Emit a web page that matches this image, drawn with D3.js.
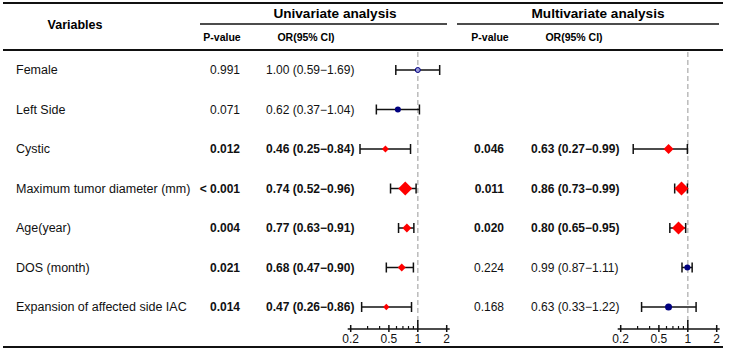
<!DOCTYPE html>
<html>
<head>
<meta charset="utf-8">
<script src="https://cdn.jsdelivr.net/npm/d3@7"></script>
<style>
  body { margin: 0; background: #fff; }
  svg { font-family: "Liberation Sans", Arial, sans-serif; }
</style>
</head>
<body>
<div id="container"></div>
<script>
/* DATA */
const variables = ["Female", "Left Side", "Cystic", "Maximum tumor diameter (mm)",
  "Age(year)", "DOS (month)", "Expansion of affected side IAC"];

// univariate analysis
const uniP = ["0.991", "0.071", "0.012", "< 0.001", "0.004", "0.021", "0.014"];
const uniOR = [1.00, 0.62, 0.46, 0.74, 0.77, 0.68, 0.47];
const uniLo = [0.59, 0.37, 0.25, 0.52, 0.63, 0.47, 0.26];
const uniHi = [1.69, 1.04, 0.84, 0.96, 0.91, 0.90, 0.86];

// multivariate analysis (Female / Left Side not entered)
const multiP = [null, null, "0.046", "0.011", "0.020", "0.224", "0.168"];
const multiOR = [null, null, 0.63, 0.86, 0.80, 0.99, 0.63];
const multiLo = [null, null, 0.27, 0.73, 0.65, 0.87, 0.33];
const multiHi = [null, null, 0.99, 0.99, 0.95, 1.11, 1.22];

const majorTicks = [0.2, 0.5, 1, 2];
const minorTicks = [0.3, 0.4, 0.6, 0.7, 0.8, 0.9];

/* CONSTANTS */
const width = 731, height = 351;
const rowTop = 70, rowStep = 39.5, axisY = 329;
// marker sizes (style only)
const uniSize = [2.5, 3, 3.5, 7, 4.5, 4, 3.2];
const multiSize = [0, 0, 5, 7, 6.5, 3, 3.5];

const fmt = d3.format(".2f");
const isSig = p => p != null && (p.startsWith("<") || +p < 0.05);

const svg = d3.select("#container")
  .append("svg")
  .attr("width", width)
  .attr("height", height);

const yRow = i => rowTop + i * rowStep;

/* HEADER */
const hline = (x1, x2, y, w) => svg.append("line")
  .attr("x1", x1).attr("x2", x2).attr("y1", y).attr("y2", y)
  .attr("stroke", "#111").attr("stroke-width", w);

hline(3, 723, 3, 2);
hline(3, 723, 50, 2.2);
hline(3, 723, 347, 2.2);
hline(200, 447, 24, 1.5);
hline(457, 719, 24, 1.5);

svg.append("text").attr("x", 75).attr("y", 25).attr("dy", "0.35em")
  .attr("text-anchor", "middle").attr("font-weight", "bold").attr("font-size", 12.5)
  .text("Variables");

const panels = [
  { title: "Univariate analysis", titleX: 335, pX: 240, orX: 266, pHead: 222, orHead: 306,
    x0: 350.7, p: uniP, or: uniOR, lo: uniLo, hi: uniHi, size: uniSize },
  { title: "Multivariate analysis", titleX: 598, pX: 504, orX: 531, pHead: 490, orHead: 574,
    x0: 620.7, p: multiP, or: multiOR, lo: multiLo, hi: multiHi, size: multiSize }
];

svg.selectAll("text.title")
  .data(panels)
  .join("text")
  .attr("class", "title")
  .attr("x", d => d.titleX).attr("y", 13).attr("dy", "0.35em")
  .attr("text-anchor", "middle").attr("font-weight", "bold").attr("font-size", 13.6)
  .text(d => d.title);

panels.forEach(pn => {
  svg.append("text").attr("x", pn.pHead).attr("y", 37).attr("dy", "0.35em")
    .attr("text-anchor", "middle").attr("font-weight", "bold").attr("font-size", 10.5)
    .text("P-value");
  svg.append("text").attr("x", pn.orHead).attr("y", 37).attr("dy", "0.35em")
    .attr("text-anchor", "middle").attr("font-weight", "bold").attr("font-size", 10.5)
    .text("OR(95% CI)");
});

/* ROW LABELS */
svg.selectAll("text.var")
  .data(variables)
  .join("text")
  .attr("class", "var")
  .attr("x", 16).attr("y", (d, i) => yRow(i)).attr("dy", "0.35em")
  .attr("font-size", 12.5).attr("fill", "#111")
  .text(d => d);

/* PANELS */
panels.forEach(pn => {
  const x = d3.scaleLog().domain([0.2, 2]).range([pn.x0, pn.x0 + 96]);
  const rows = variables.map((v, i) => ({
    i, p: pn.p[i], or: pn.or[i], lo: pn.lo[i], hi: pn.hi[i], size: pn.size[i]
  })).filter(d => d.p != null);

  const g = svg.append("g");

  // p-values
  g.selectAll("text.p")
    .data(rows)
    .join("text")
    .attr("x", pn.pX).attr("y", d => yRow(d.i)).attr("dy", "0.35em")
    .attr("text-anchor", "end").attr("font-size", 12).attr("fill", "#111")
    .attr("font-weight", d => isSig(d.p) ? "bold" : "normal")
    .text(d => d.p);

  // OR (95% CI)
  g.selectAll("text.or")
    .data(rows)
    .join("text")
    .attr("x", pn.orX).attr("y", d => yRow(d.i)).attr("dy", "0.35em")
    .attr("font-size", 12).attr("fill", "#111")
    .attr("font-weight", d => isSig(d.p) ? "bold" : "normal")
    .text(d => `${fmt(d.or)} (${fmt(d.lo)}\u2212${fmt(d.hi)})`);

  // reference line at OR = 1
  g.append("line")
    .attr("x1", x(1)).attr("x2", x(1)).attr("y1", 52).attr("y2", axisY)
    .attr("stroke", "#bbb").attr("stroke-width", 1.5).attr("stroke-dasharray", "5,3");

  // CI bars
  g.selectAll("line.ci")
    .data(rows)
    .join("line")
    .attr("x1", d => x(d.lo)).attr("x2", d => x(d.hi))
    .attr("y1", d => yRow(d.i)).attr("y2", d => yRow(d.i))
    .attr("stroke", "#111").attr("stroke-width", 1.5);

  const caps = rows.flatMap(d => [{ v: d.lo, i: d.i }, { v: d.hi, i: d.i }]);
  g.selectAll("line.cap")
    .data(caps)
    .join("line")
    .attr("x1", d => x(d.v)).attr("x2", d => x(d.v))
    .attr("y1", d => yRow(d.i) - 5).attr("y2", d => yRow(d.i) + 5)
    .attr("stroke", "#111").attr("stroke-width", 1.5);

  // point estimates
  rows.forEach(d => {
    const cx = x(d.or), cy = yRow(d.i), s = d.size;
    if (isSig(d.p)) {
      g.append("path")
        .attr("d", `M${cx},${cy - s}L${cx + s},${cy}L${cx},${cy + s}L${cx - s},${cy}Z`)
        .attr("fill", "#ff0000");
    } else {
      g.append("circle")
        .attr("cx", cx).attr("cy", cy).attr("r", s)
        .attr("fill", d.i === 0 ? "#9a9ad8" : "#000080")
        .attr("stroke", "#000080").attr("stroke-width", d.i === 0 ? 1 : 0);
    }
  });

  // axis
  g.append("line")
    .attr("x1", x(0.2) - 3).attr("x2", x(2) + 3).attr("y1", axisY).attr("y2", axisY)
    .attr("stroke", "#111").attr("stroke-width", 1.5);
  g.selectAll("line.major")
    .data(majorTicks)
    .join("line")
    .attr("x1", d => x(d)).attr("x2", d => x(d))
    .attr("y1", d => d === 1 ? axisY - 9 : axisY - 4).attr("y2", axisY + 3)
    .attr("stroke", "#111").attr("stroke-width", 1.5);
  g.selectAll("line.minor")
    .data(minorTicks)
    .join("line")
    .attr("x1", d => x(d)).attr("x2", d => x(d))
    .attr("y1", axisY - 3).attr("y2", axisY)
    .attr("stroke", "#111").attr("stroke-width", 1.2);
  g.selectAll("text.tick")
    .data(majorTicks)
    .join("text")
    .attr("x", d => x(d)).attr("y", 339).attr("dy", "0.35em")
    .attr("text-anchor", "middle").attr("font-size", 12).attr("fill", "#111")
    .text(d3.format(""));
});
</script>
</body>
</html>
